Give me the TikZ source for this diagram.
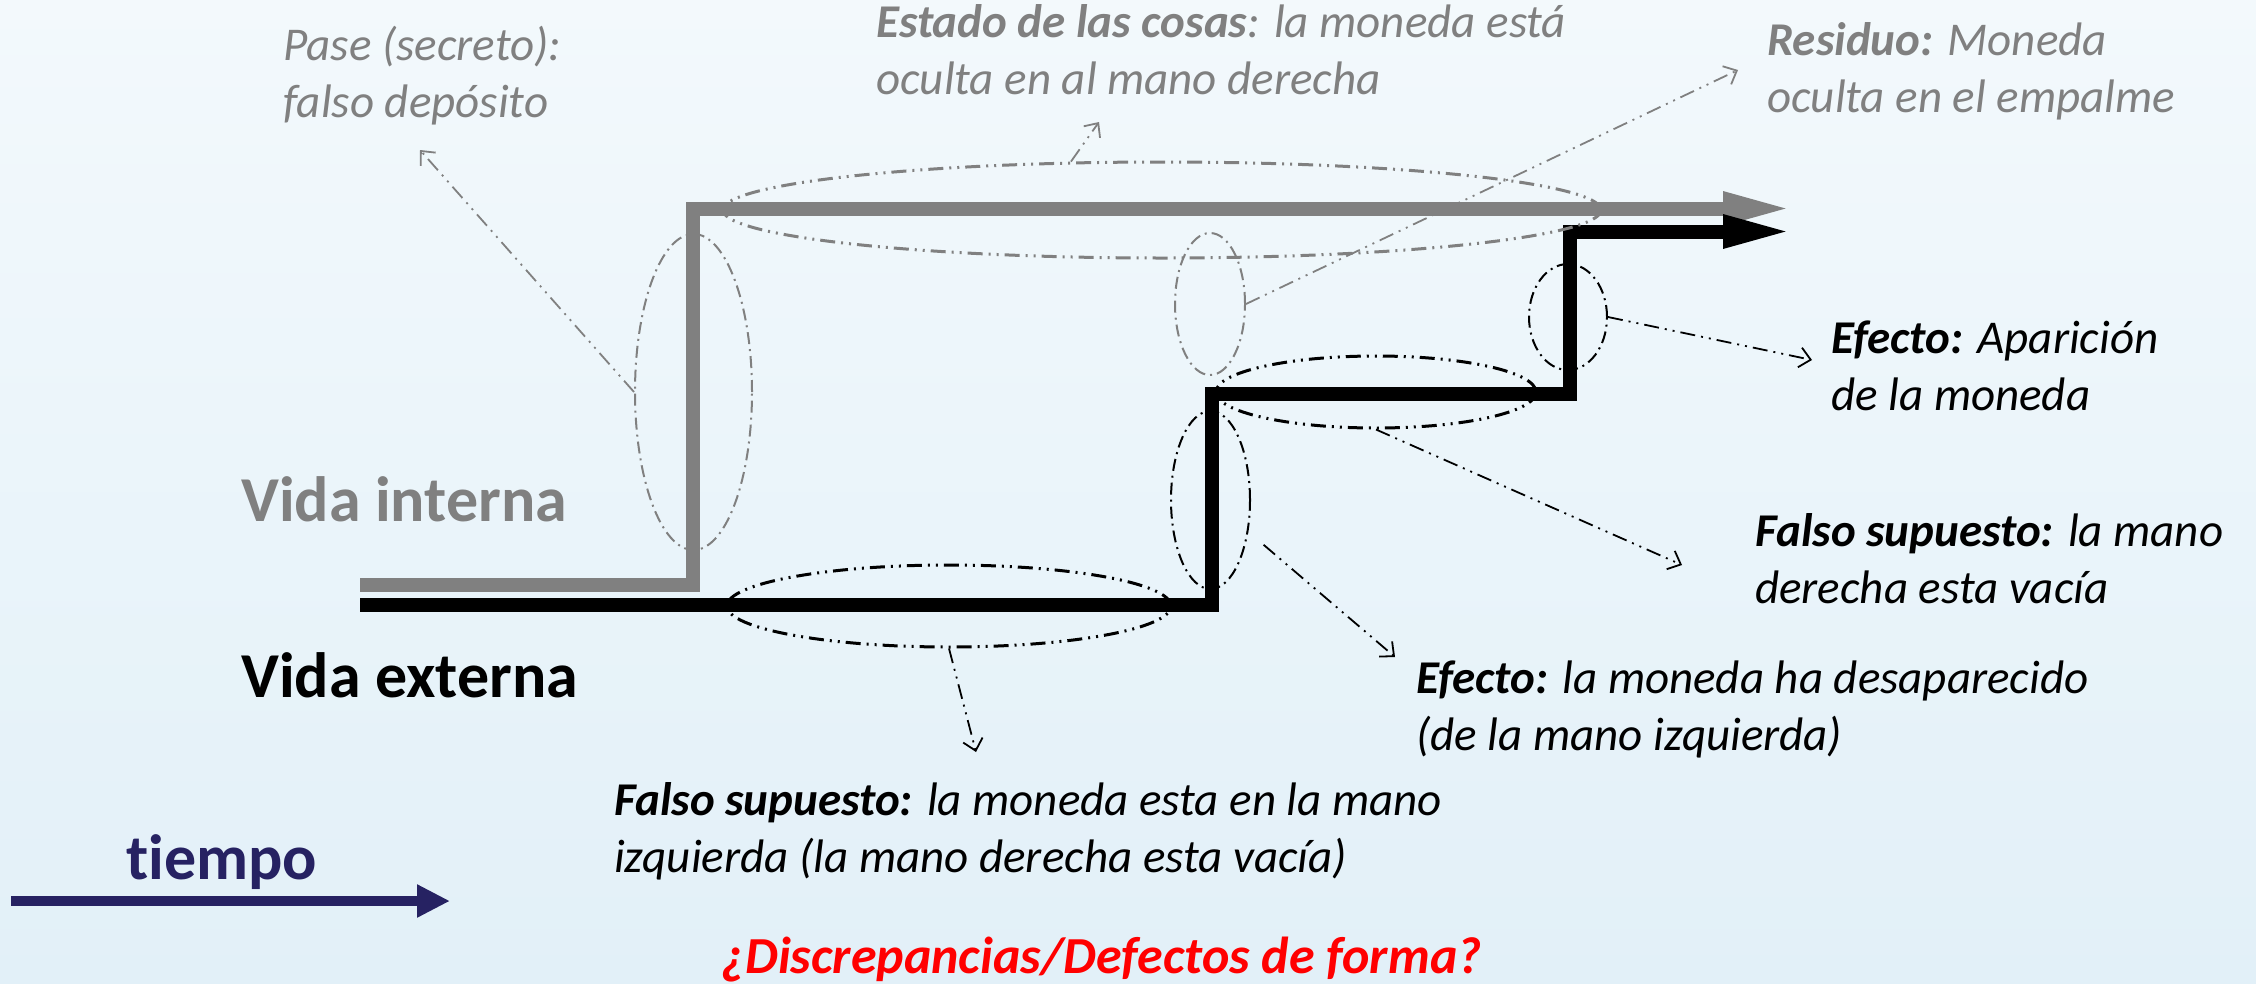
\documentclass[tikz,border=0pt]{standalone}
\usepackage{fontspec}
\setmainfont{Carlito}[Ligatures=NoCommon]
\usetikzlibrary{arrows.meta,shapes.geometric}
\definecolor{gline}{RGB}{128,128,128}
\definecolor{tnavy}{RGB}{38,34,98}
\definecolor{bgtop}{RGB}{243,249,252}
\definecolor{bgbot}{RGB}{226,240,248}
\newcommand\lblTwo[2]{\vtop{\hbox{#1}\hbox{#2}}}
\begin{document}
\begin{tikzpicture}[x=1pt,y=-1pt,
  stair/.style={line width=14pt, line join=miter, -{Triangle[length=70pt,width=30pt]}},
  ell/.style={ellipse, draw, inner sep=0pt, fill=none},
  dd/.style={dash pattern=on 15pt off 6pt on 2pt off 6pt on 2pt off 6pt},
  dt/.style={dash pattern=on 12pt off 5pt on 2pt off 5pt},
  callout/.style={line width=1.8pt, dd, -{Straight Barb[length=11pt,width=20pt]}},
  note/.style={anchor=base west, inner sep=0pt, font=\fontsize{47}{57}\selectfont\itshape},
  big/.style={anchor=base west, inner sep=0pt, font=\fontsize{64}{77}\selectfont\bfseries},
]
\useasboundingbox (0,0) rectangle (2256,983);
\fill[top color=bgtop,bottom color=bgbot] (0,0) rectangle (2256,983);

% staircase lines
\draw[stair, gline] (360,585) -- (692.5,585) -- (692.5,208.5) -- (1793,208.5);
\draw[stair, black] (360,605) -- (1212,605) -- (1212,393.5) -- (1570,393.5) -- (1570,231.5) -- (1793,231.5);

% ellipses
\node[ell, draw=gline, line width=2pt, dt, minimum width=117pt, minimum height=316pt] (E1) at (693.5,392) {};
\node[ell, draw=gline, line width=3pt, dd, minimum width=878pt, minimum height=96pt] (E2) at (1162,210) {};
\node[ell, draw=gline, line width=2pt, dt, minimum width=70pt, minimum height=142pt] (E3) at (1210,304) {};
\node[ell, draw=black, line width=2pt, dt, minimum width=78pt, minimum height=106pt] (E4) at (1568,317) {};
\node[ell, draw=black, line width=3pt, dd, minimum width=320pt, minimum height=72pt] (E5) at (1376,392) {};
\node[ell, draw=black, line width=2pt, dt, minimum width=79pt, minimum height=178pt] (E6) at (1210.5,500) {};
\node[ell, draw=black, line width=3pt, dd, minimum width=444pt, minimum height=82pt] (E7) at (949,606) {};

% callout tips
\coordinate (P1) at (420,150);
\coordinate (P2) at (1099,122);
\coordinate (P3) at (1738,70);
\coordinate (P4) at (1812,360);
\coordinate (P5) at (1682,565);
\coordinate (P6) at (1395,657);
\coordinate (P7) at (976,752);

\draw[callout, gline] (E1.180) -- (P1);
\draw[callout, gline] (E2.152) -- (P2);
\draw[callout, gline] (E3.0) -- (P3);
\draw[callout] (E4.0) -- (P4);
\draw[callout] (E5.270) -- (P5);
\draw[callout, shorten <=20pt] (E6.-40) -- (P6);
\draw[callout] (E7.270) -- (P7);

% texts
\node[note, text=gline] (T1) at (283,60) {\lblTwo{Pase (secreto):}{falso depósito}};
\node[note, text=gline] (T2) at (876,37) {\lblTwo{\textbf{Estado de las cosas}: la moneda está}{oculta en al mano derecha}};
\node[note, text=gline] (T3) at (1767,55) {\lblTwo{\textbf{Residuo:} Moneda}{oculta en el empalme}};
\node[note] (T4) at (1831,353) {\lblTwo{\textbf{Efecto:} Aparición}{de la moneda}};
\node[note] (T5) at (1755,546) {\lblTwo{\textbf{Falso supuesto:} la mano}{derecha esta vacía}};
\node[note] (T6) at (1416,693) {\lblTwo{\textbf{Efecto:} la moneda ha desaparecido}{(de la mano izquierda)}};
\node[note] (T7) at (614,815) {\lblTwo{\textbf{Falso supuesto:} la moneda esta en la mano}{izquierda (la mano derecha esta vacía)}};

\node[big, text=gline] (VI) at (241,521) {Vida interna};
\node[big] (VE) at (241,697) {Vida externa};
\node[big, text=tnavy] (TI) at (126,879) {tiempo};
\coordinate (t0) at (11,901);
\coordinate (t1) at (450,901);
\draw[tnavy, line width=10pt, -{Triangle[length=33pt,width=31pt]}] (t0) -- (t1);

\node[anchor=base west, inner sep=0pt, text=red, font=\fontsize{52}{62}\selectfont\bfseries\itshape] (Q) at (721,973) {¿Discrepancias/Defectos de forma?};
\end{tikzpicture}
\end{document}
